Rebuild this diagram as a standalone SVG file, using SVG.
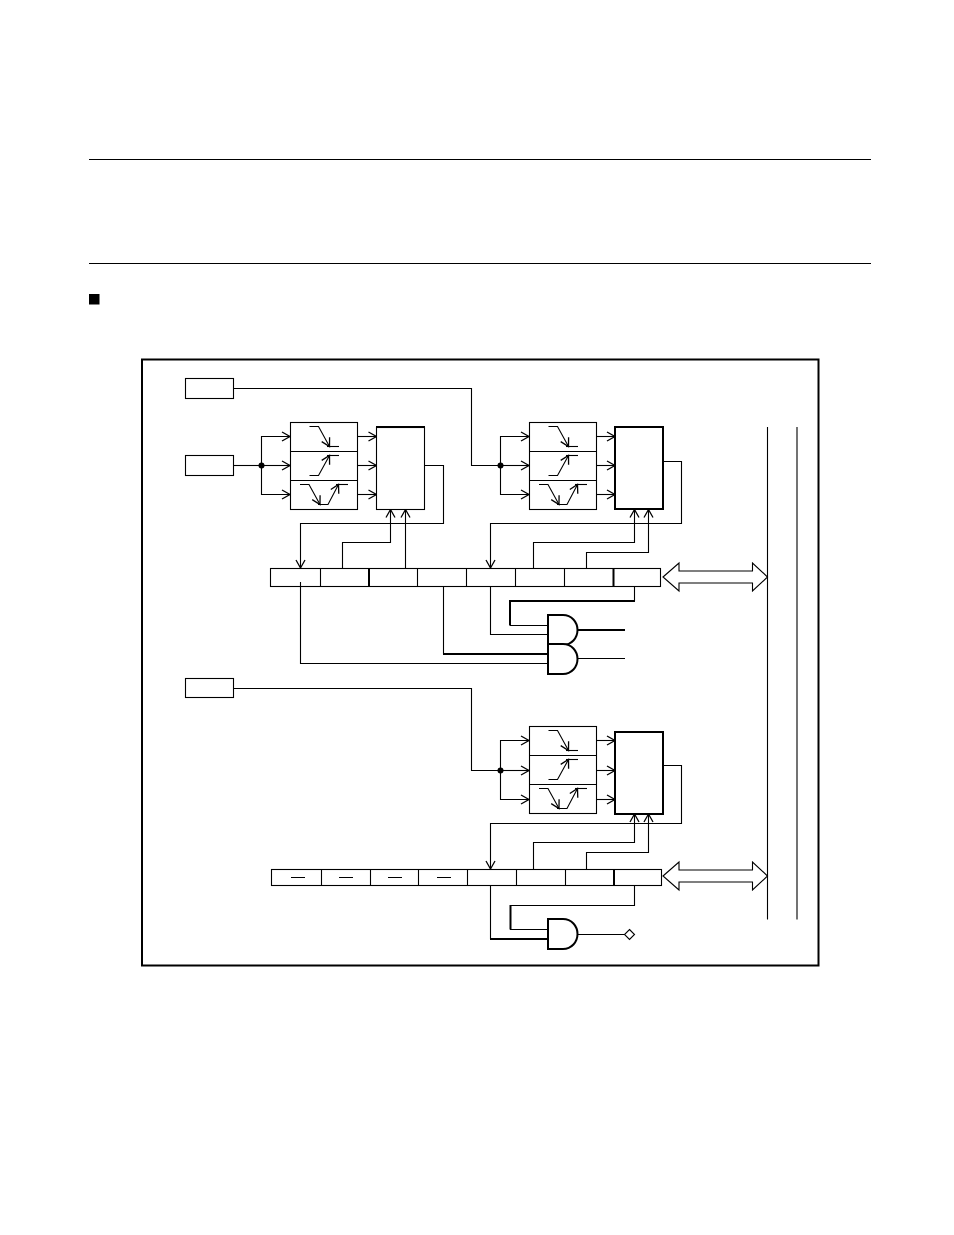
<svg xmlns="http://www.w3.org/2000/svg" width="954" height="1235" viewBox="0 0 954 1235">
<style>
.l{fill:none;stroke:#000;stroke-width:1.1}
.t{fill:none;stroke:#000;stroke-width:2}
.b{fill:#fff;stroke:#000;stroke-width:1.1}
.bt{fill:#fff;stroke:#000;stroke-width:2}
.a{marker-end:url(#arr)}
</style>
<defs>
<marker id="arr" markerUnits="userSpaceOnUse" markerWidth="12" markerHeight="12" refX="9" refY="6" orient="auto">
<path d="M1 1.500L9 6L1 10.500" fill="none" stroke="#000" stroke-width="1.300"/>
</marker>
<marker id="wave" markerUnits="userSpaceOnUse" markerWidth="12" markerHeight="12" refX="9" refY="6" orient="auto">
<path d="M1 1.500L9 6L1 10.500" fill="none" stroke="#000" stroke-width="1.300"/>
</marker>
<g id="filter">
<rect class="b" x="0.500" y="0.500" width="67" height="87"/>
<path class="l" d="M0.500 29.500H67.500M0.500 58.500H67.500"/>
<path class="l" d="M19.500 4.500H28.500L39.500 24.500" marker-end="url(#wave)"/><path class="l" d="M37 24.500H49"/>
<path class="l" d="M19.500 53.500H28.500L39.500 33.500" marker-end="url(#wave)"/><path class="l" d="M37 33.500H49"/>
<path class="l" d="M10 62.500H19L30 82.500" marker-end="url(#wave)"/><path class="l" d="M28 82.500H38L48.500 62.500" marker-end="url(#wave)"/><path class="l" d="M46 62.500H58"/>
</g>
<path id="dblarrow" class="b" d="M0.500 14.500L16.500 0.500V8.500H90V0.500L105 14.500L90 28.500V20.500H16.500V28.500Z"/>
<path id="gate" d="M0 0H15C23.500 0 29.500 7 29.500 15C29.500 23 23.500 30 15 30H0Z" fill="#fff" stroke="#000" stroke-width="2"/>
</defs>
<rect width="954" height="1235" fill="#fff"/>
<g id="page-rules">
<path class="l" d="M89 159.500H871M89 263.500H871"/>
<rect x="89" y="294" width="10.500" height="10.500" fill="#000"/>
</g>
<g id="frame"><rect x="142" y="359.500" width="676.500" height="606" fill="none" stroke="#000" stroke-width="2"/></g>
<g id="connectors">
<path class="l" d="M233.500 388.500H471.500V465.500H500"/>
<path class="l" d="M233.500 465.500H261.500"/>
<path class="l a" d="M261.500 465.500H290"/>
<path class="l a" d="M261.500 465.500V436.500H290"/>
<path class="l a" d="M261.500 465.500V494.500H290"/>
<path class="l a" d="M357.500 436.500H376.500"/><path class="l a" d="M357.500 465.500H376.500"/><path class="l a" d="M357.500 494.500H376.500"/>
<path class="l a" d="M425 465.500H443.500V523.500H300.500V568"/>
<path class="l a" d="M342.500 568V542.500H390.500V509.500"/>
<path class="l a" d="M405.500 568V509.500"/>
<path class="l a" d="M500.500 465.500H529"/>
<path class="l a" d="M500.500 465.500V436.500H529"/>
<path class="l a" d="M500.500 465.500V494.500H529"/>
<path class="l a" d="M596.500 436.500H615"/><path class="l a" d="M596.500 465.500H615"/><path class="l a" d="M596.500 494.500H615"/>
<path class="l a" d="M663.500 461.500H681.500V523.500H490.500V568"/>
<path class="l a" d="M533.500 568V542.500H634.500V509.500"/>
<path class="l a" d="M586.500 568V552.500H648.500V509.500"/>
<path class="l" d="M300.500 582V663.500H548"/>
<path class="l" d="M443.500 586V654"/>
<path class="t" d="M443 654H548"/>
<path class="l" d="M490.500 586V634.500H548"/>
<path class="l" d="M634.500 586V601"/>
<path class="t" d="M635 601H510V625.500"/>
<path class="l" d="M510 625.500H548"/>
<path class="t" d="M577 630H625"/>
<path class="l" d="M577 658.500H625"/>
<path class="l" d="M233.500 688.500H471.500V770.500H500"/>
<path class="l a" d="M500.500 770.500H529"/>
<path class="l a" d="M500.500 770.500V740.500H529"/>
<path class="l a" d="M500.500 770.500V799.500H529"/>
<path class="l a" d="M596.500 740.500H615"/><path class="l a" d="M596.500 770.500H615"/><path class="l a" d="M596.500 799.500H615"/>
<path class="l a" d="M663.500 765.500H681.500V823.500H490.500V869"/>
<path class="l a" d="M533.500 869V842.500H634.500V814"/>
<path class="l a" d="M586.500 869V852.500H648.500V814"/>
<path class="l" d="M634.500 885.500V905.500H510.500"/>
<path class="t" d="M510.500 905V929.500"/>
<path class="l" d="M510 929.500H548"/>
<path class="l" d="M490.500 885.500V939"/>
<path class="t" d="M490 939H548"/>
<path class="l" d="M577 934.500H624.500"/>
</g>
<g id="pin1"><rect class="b" x="185.500" y="378.500" width="48" height="20"/></g>
<g id="pin2"><rect class="b" x="185.500" y="455.500" width="48" height="20"/></g>
<g id="pin3"><rect class="b" x="185.500" y="678.500" width="48" height="19"/></g>
<g id="filter1"><use href="#filter" x="290" y="422"/></g>
<g id="filter2"><use href="#filter" x="529" y="422"/></g>
<g id="filter3"><use href="#filter" x="529" y="726"/></g>
<g id="latch1"><rect class="b" x="376.500" y="427.500" width="48" height="82"/><path class="t" d="M376 427H425"/></g>
<g id="latch2"><rect class="bt" x="615" y="427" width="48" height="82"/></g>
<g id="latch3"><rect class="bt" x="615" y="732" width="48" height="82"/></g>
<g id="junctions">
<circle cx="261.500" cy="465.500" r="3"/><circle cx="500.500" cy="465.500" r="3"/><circle cx="500.500" cy="770.500" r="3"/>
</g>
<g id="reg1">
<rect class="b" x="270.500" y="568.500" width="390" height="18"/>
<path class="l" d="M320.500 568V586M417.500 568V586M466.500 568V586M515.500 568V586M564.500 568V586"/>
<path class="t" d="M369 568V586M613.500 568V586"/>
<path class="l" d="M300.500 582V586"/>
</g>
<g id="reg2">
<rect class="b" x="271.500" y="869.500" width="390" height="16"/>
<path class="l" d="M321.500 869V885M370.500 869V885M418.500 869V885M467.500 869V885M516.500 869V885M565.500 869V885"/>
<path class="t" d="M614 869V885"/>
<path class="l" d="M291 877.500H305M339 877.500H353M388 877.500H402M437 877.500H451"/>
</g>
<g id="bus1"><use href="#dblarrow" x="662.500" y="562.500"/></g>
<g id="bus2"><use href="#dblarrow" x="662.500" y="861.500"/></g>
<g id="internal-bus"><path class="l" d="M767.500 427V919.500M797 427V919.500"/></g>
<g id="and1"><use href="#gate" x="548" y="615"/></g>
<g id="and2"><use href="#gate" x="548" y="644"/></g>
<g id="and3"><use href="#gate" x="548" y="919"/></g>
<g id="pin-out"><path class="b" d="M629.500 929.500L634.500 934.500L629.500 939.500L624.500 934.500Z"/></g>
</svg>
